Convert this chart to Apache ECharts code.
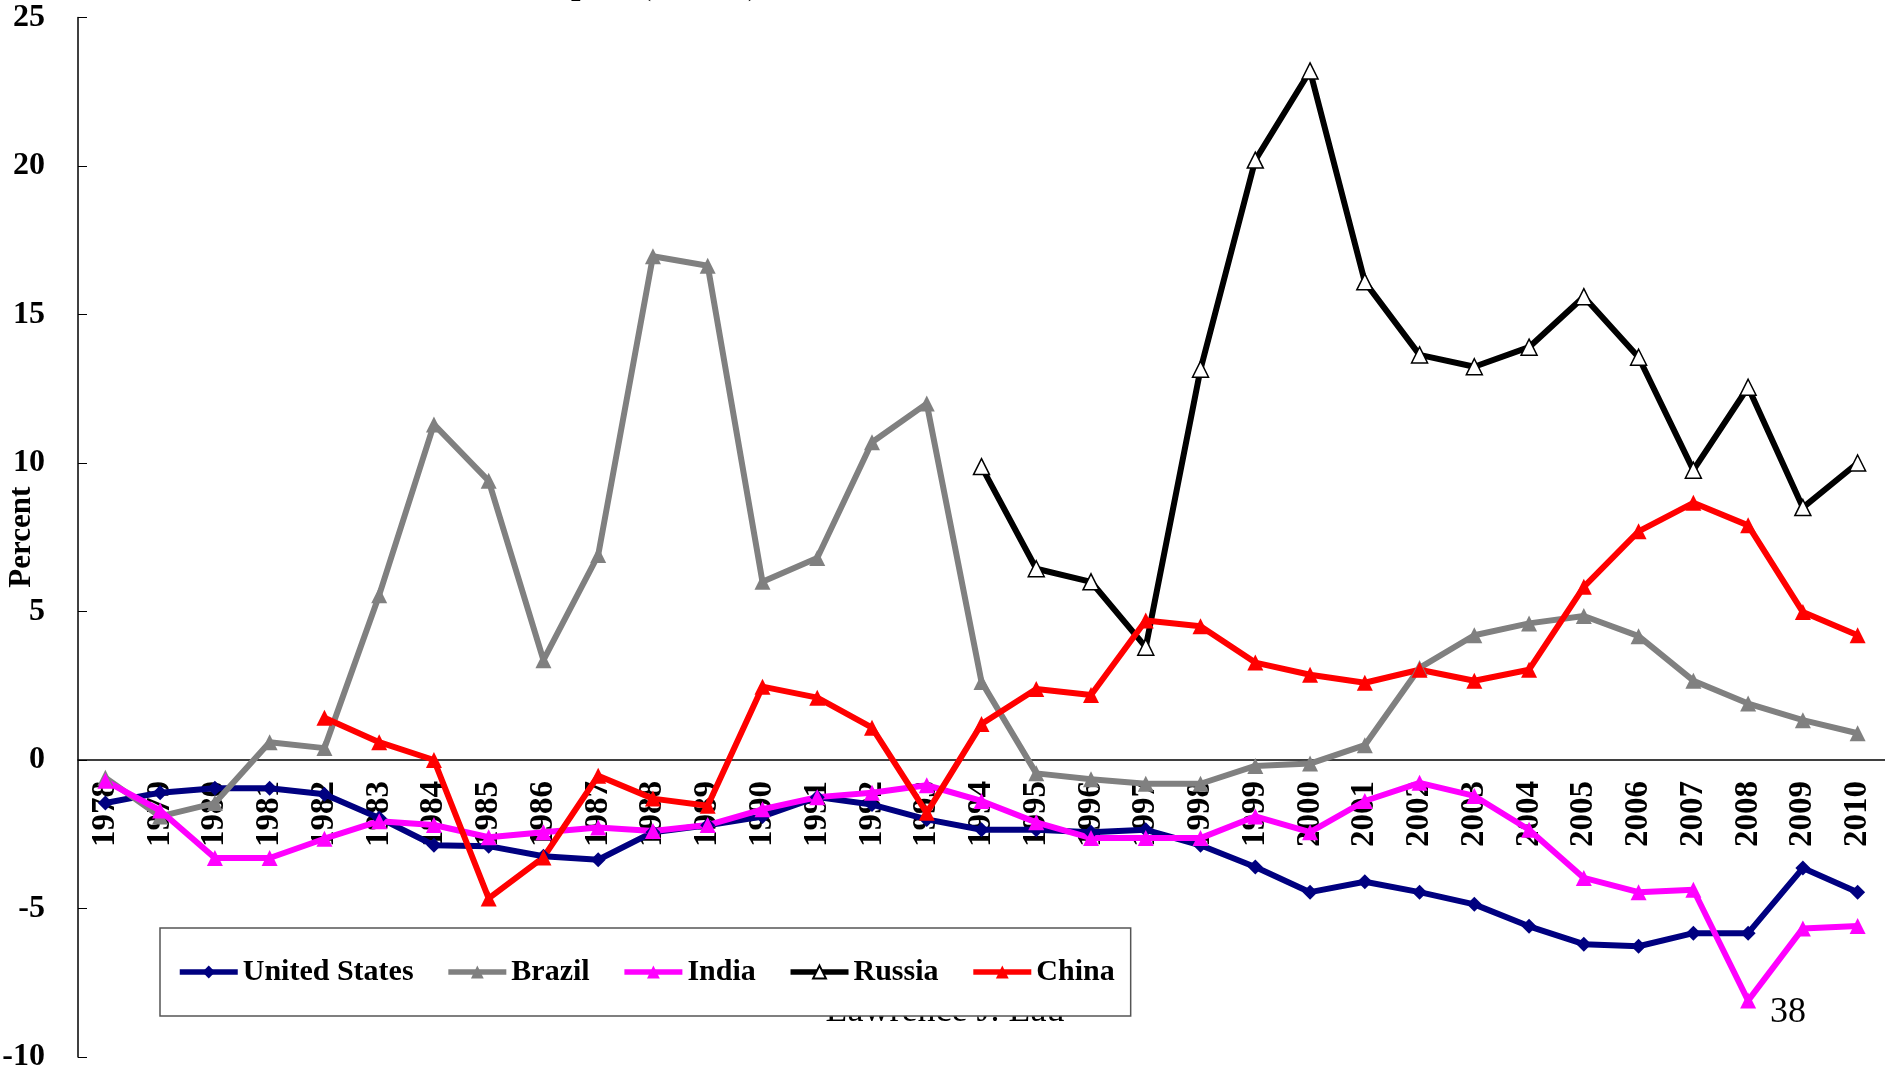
<!DOCTYPE html>
<html>
<head>
<meta charset="utf-8" />
<title>Current Account Surplus (Deficit)</title>
<script src="https://cdn.jsdelivr.net/npm/echarts@6/dist/echarts.min.js"></script>
<style>
  html,
  body {
    margin: 0;
    padding: 0;
    background: #fff;
  }
  #chart {
    width: 1885px;
    height: 1073px;
  }
</style>
</head>
<body>
<div id="chart"></div>
<script>
const FONT = "'Times New Roman', 'Liberation Serif', serif";

const years = [
  "1978", "1979", "1980", "1981", "1982", "1983", "1984", "1985", "1986",
  "1987", "1988", "1989", "1990", "1991", "1992", "1993", "1994", "1995",
  "1996", "1997", "1998", "1999", "2000", "2001", "2002", "2003", "2004",
  "2005", "2006", "2007", "2008", "2009", "2010",
];

const unitedStates = [
  -1.45, -1.1, -0.95, -0.95, -1.15, -1.95, -2.87, -2.9, -3.24, -3.36, -2.43,
  -2.2, -1.9, -1.25, -1.5, -2.0, -2.35, -2.35, -2.43, -2.35, -2.87, -3.6,
  -4.45, -4.1, -4.45, -4.86, -5.6, -6.2, -6.27, -5.83, -5.83, -3.64, -4.45,
];

const brazil = [
  -0.6, -1.9, -1.45, 0.6, 0.4, 5.55, 11.3, 9.4, 3.36, 6.9, 16.96, 16.64, 6.0,
  6.8, 10.7, 12.0, 2.63, -0.45, -0.65, -0.8, -0.8, -0.2, -0.12, 0.5, 3.1, 4.2,
  4.6, 4.85, 4.17, 2.67, 1.9, 1.34, 0.9,
];

const india = [
  -0.7, -1.7, -3.3, -3.3, -2.65, -2.06, -2.19, -2.6, -2.43, -2.27, -2.39,
  -2.19, -1.66, -1.25, -1.1, -0.85, -1.38, -2.1, -2.63, -2.63, -2.63, -1.9,
  -2.43, -1.38, -0.77, -1.21, -2.35, -3.97, -4.45, -4.37, -8.1, -5.67, -5.59,
];

// no data before 1994
const russia = [
  null, null, null, null, null, null, null, null, null, null, null, null,
  null, null, null, null, 9.88, 6.44, 6.0, 3.8, 13.16, 20.2, 23.2, 16.1, 13.64,
  13.24, 13.9, 15.6, 13.56, 9.76, 12.55, 8.5, 10.0,
];

// no data before 1982
const china = [
  null, null, null, null, 1.42, 0.6, 0.0, -4.66, -3.28, -0.53, -1.3, -1.54,
  2.47, 2.1, 1.09, -1.78, 1.21, 2.39, 2.19, 4.7, 4.5, 3.28, 2.87, 2.6, 3.04,
  2.67, 3.04, 5.83, 7.7, 8.66, 7.9, 4.98, 4.2,
];

const yTicks = { min: -10, max: 25, interval: 5 };

// plot area in pixels
const gridTop = 17.5;
const gridBottom = 16;
const plotHeight = 1073 - gridTop - gridBottom;
// move the category axis up to the value 0
const zeroOffset = -plotHeight * (0 - yTicks.min) / (yTicks.max - yTicks.min);

const chart = echarts.init(document.getElementById("chart"));

const makeSeries = (name, data, color, symbol, fill) => ({
  name: name,
  type: "line",
  data: data,
  symbol: symbol,
  symbolSize: symbol === "diamond" ? 15 : 16,
  showAllSymbol: true,
  connectNulls: false,
  animation: false,
  lineStyle: {
    color: color,
    width: 6,
  },
  itemStyle: {
    color: fill || color,
    borderColor: color,
    borderWidth: fill ? 1.5 : 0,
  },
  emphasis: { disabled: true },
});

const option = {
  animation: false,
  grid: {
    left: 78,
    right: 0,
    top: gridTop,
    bottom: gridBottom,
    containLabel: false,
    outerBoundsMode: "none",
  },
  legend: {
    left: 160,
    top: 928,
    padding: [29, 16, 29, 17],
    itemWidth: 58,
    itemHeight: 16,
    itemGap: 32,
    backgroundColor: "#fff",
    borderColor: "#555",
    borderWidth: 1.5,
    lineStyle: { width: 5.5 },
    textStyle: {
      fontFamily: FONT,
      fontSize: 30,
      fontWeight: "bold",
      color: "#000",
    },
    data: ["United States", "Brazil", "India", "Russia", "China"],
  },
  xAxis: {
    type: "category",
    data: years,
    boundaryGap: true,
    offset: zeroOffset,
    axisLine: {
      onZero: false,
      lineStyle: { color: "#000", width: 1.5 },
    },
    axisTick: {
      inside: true,
      length: 8,
      interval: 0,
      lineStyle: { color: "#000", width: 1 },
    },
    axisLabel: {
      interval: 0,
      rotate: 90,
      margin: 21,
      fontFamily: FONT,
      fontSize: 33,
      fontWeight: "bold",
      color: "#000",
    },
    splitLine: { show: false },
  },
  yAxis: {
    type: "value",
    min: yTicks.min,
    max: yTicks.max,
    interval: yTicks.interval,
    name: "Percent",
    nameLocation: "middle",
    nameRotate: 90,
    nameGap: 41,
    nameMoveOverlap: false,
    nameTextStyle: {
      fontFamily: FONT,
      fontSize: 31,
      fontWeight: "bold",
      color: "#000",
    },
    axisLine: {
      show: true,
      lineStyle: { color: "#000", width: 1.5 },
    },
    axisTick: {
      show: true,
      inside: true,
      length: 9,
      lineStyle: { color: "#000", width: 1 },
    },
    axisLabel: {
      margin: 33,
      fontFamily: FONT,
      fontSize: 32,
      fontWeight: "bold",
      color: "#000",
    },
    splitLine: { show: false },
  },
  graphic: [
    {
      // slide title, cut off at the top edge
      type: "text",
      z: 0,
      style: {
        text: "Current Account Surplus (Deficit)",
        x: 759,
        y: 2,
        textAlign: "right",
        textVerticalAlign: "bottom",
        fontFamily: FONT,
        fontSize: 34,
        fontWeight: "bold",
        fill: "#000",
      },
    },
    {
      // slide footer, mostly hidden behind the legend
      type: "text",
      z: 0,
      style: {
        text: "Lawrence J. Lau",
        x: 945,
        y: 1030,
        textAlign: "center",
        textVerticalAlign: "bottom",
        fontFamily: FONT,
        fontSize: 36,
        fill: "#000",
      },
    },
    {
      type: "text",
      z: 0,
      style: {
        text: "38",
        x: 1770,
        y: 1031,
        textAlign: "left",
        textVerticalAlign: "bottom",
        fontFamily: FONT,
        fontSize: 36,
        fill: "#000",
      },
    },
  ],
  series: [
    makeSeries("United States", unitedStates, "#000080", "diamond"),
    makeSeries("Brazil", brazil, "#808080", "triangle"),
    makeSeries("India", india, "#FF00FF", "triangle"),
    makeSeries("Russia", russia, "#000000", "triangle", "#ffffff"),
    makeSeries("China", china, "#FF0000", "triangle"),
  ],
};

chart.setOption(option);

window.addEventListener("resize", () => {
  chart.resize();
});
</script>
</body>
</html>
